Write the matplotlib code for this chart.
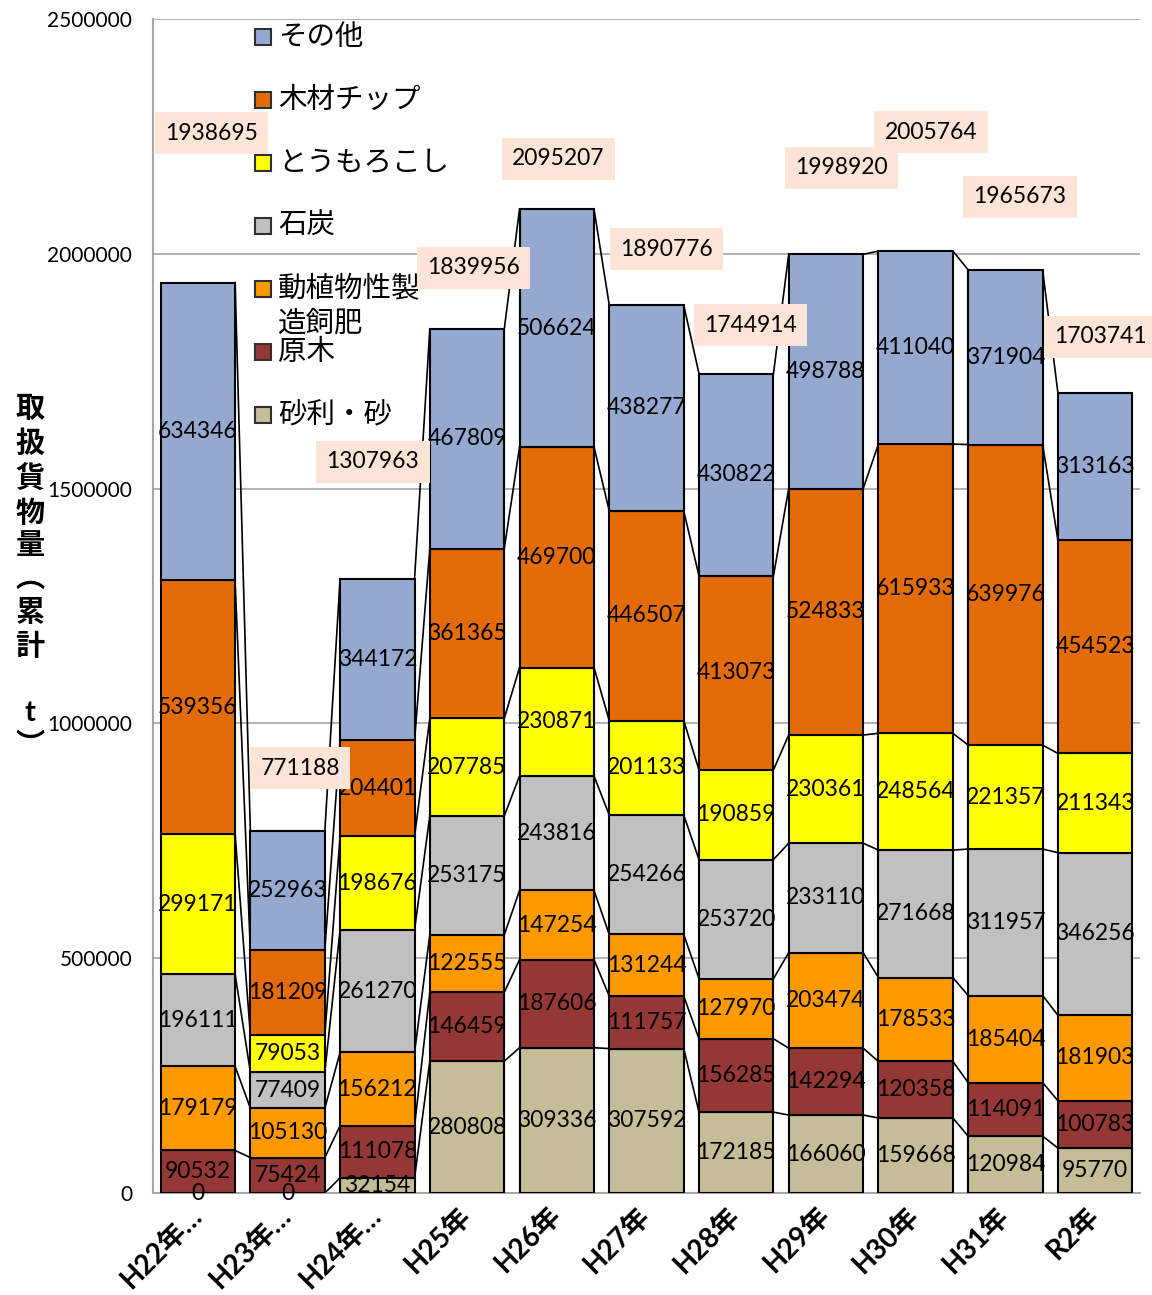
import numpy as np
import matplotlib.pyplot as plt
from matplotlib.patches import Rectangle

plt.rcParams['font.family'] = ['Lato', 'Noto Sans CJK JP', 'DejaVu Sans']

# categories (fiscal years)
years = ['H22年…', 'H23年…', 'H24年…', 'H25年', 'H26年', 'H27年',
         'H28年', 'H29年', 'H30年', 'H31年', 'R2年']

# cargo volumes (t), stacked from bottom to top
gravel = [0, 0, 32154, 280808, 309336, 307592, 172185, 166060, 159668, 120984, 95770]
logs = [90532, 75424, 111078, 146459, 187606, 111757, 156285, 142294, 120358, 114091, 100783]
feed = [179179, 105130, 156212, 122555, 147254, 131244, 127970, 203474, 178533, 185404, 181903]
coal = [196111, 77409, 261270, 253175, 243816, 254266, 253720, 233110, 271668, 311957, 346256]
corn = [299171, 79053, 198676, 207785, 230871, 201133, 190859, 230361, 248564, 221357, 211343]
chips = [539356, 181209, 204401, 361365, 469700, 446507, 413073, 524833, 615933, 639976, 454523]
other = [634346, 252963, 344172, 467809, 506624, 438277, 430822, 498788, 411040, 371904, 313163]

series_names = ['砂利・砂', '原木', '動植物性製\n造飼肥', '石炭', 'とうもろこし', '木材チップ', 'その他']
series_vals = [gravel, logs, feed, coal, corn, chips, other]
colors = ['#C4BD97', '#953735', '#FF9900', '#C0C0C0', '#FFFF00', '#E36C09', '#95A9D0']

# where the total boxes were dragged to (x offset in categories, y in t)
total_pos = [(0.15, 2257000), (1.14, 905000), (1.95, 1557000), (3.07, 1970000),
             (4.02, 2202000), (5.22, 2010000), (6.16, 1848000), (7.17, 2183000),
             (8.17, 2259000), (9.16, 2121000), (10.06, 1823000)]

fig = plt.figure(figsize=(11.52, 12.95), dpi=100)
ax = fig.add_axes([153 / 1152, 102 / 1295, 987 / 1152, 1174 / 1295])

x = np.arange(len(years))
w = 0.83
bottom = np.zeros(len(years))
tops = [bottom.copy()]
for name, vals, c in zip(series_names, series_vals, colors):
    vals = np.array(vals, dtype=float)
    ax.bar(x, vals, w, bottom=bottom, color=c, edgecolor='black', linewidth=1.5, zorder=3)
    for xi, b, v in zip(x, bottom, vals):
        ax.text(xi, b + v / 2, f'{int(v)}', ha='center', va='center', fontsize=16.5, zorder=5)
    bottom = bottom + vals
    tops.append(bottom.copy())

# series lines between bars
for lvl in tops[1:]:
    for i in range(len(years) - 1):
        ax.plot([i + w / 2, i + 1 - w / 2], [lvl[i], lvl[i + 1]], color='black', lw=1.2, zorder=2)

# totals
totals = tops[-1]
for (px, py), t in zip(total_pos, totals):
    ax.text(px, py, f'{int(t)}', ha='center', va='center', fontsize=16.5, zorder=6,
            bbox=dict(boxstyle='square,pad=0.45', facecolor='#FCE4D6', edgecolor='none'))

ax.set_xlim(-0.5, len(years) - 0.5)
ax.set_ylim(0, 2500000)
ax.set_yticks(np.arange(0, 2500001, 500000))
ax.set_yticklabels([str(v) for v in range(0, 2500001, 500000)], fontsize=15)
ax.tick_params(axis='y', length=0, pad=15)
ax.set_xticks(x)
ax.set_xticklabels(years, rotation=45, ha='right', va='center', rotation_mode='anchor',
                   fontsize=20, fontweight='bold')
ax.tick_params(axis='x', length=0, pad=13)
ax.grid(axis='y', color='#A6A6A6', lw=1.2)
ax.set_axisbelow(True)
for s in ['top', 'right']:
    ax.spines[s].set_visible(False)
for s in ['left', 'bottom']:
    ax.spines[s].set_color('#A6A6A6')
    ax.spines[s].set_linewidth(1.5)

# legend, top entry first
step = 63 / 1174
y0 = (1193 - 37) / 1174
for i, (name, c) in enumerate(zip(series_names[::-1], colors[::-1])):
    yc = y0 - i * step
    ax.add_patch(Rectangle((0.1033, yc - 0.007), 0.016, 0.014, transform=ax.transAxes,
                           facecolor=c, edgecolor='#303030', lw=1.5, zorder=4))
    if '\n' in name:
        ax.text(0.1266, yc + 0.0125, name, transform=ax.transAxes, ha='left', va='top',
                fontsize=20.5, linespacing=1.4, zorder=4)
    else:
        ax.text(0.1266, yc, name, transform=ax.transAxes, ha='left', va='center',
                fontsize=20.5, zorder=4)

# vertical y-axis title
ylab = ['取', '扱', '貨', '物', '量', '︵', '累', '計', '', 't', '︶']
fig.text(30 / 1152, 1 - 577 / 1295, '\n'.join(ylab), ha='center', va='center',
         fontsize=21, fontweight='bold', linespacing=1.32)

fig.savefig('out.png', dpi=100)
